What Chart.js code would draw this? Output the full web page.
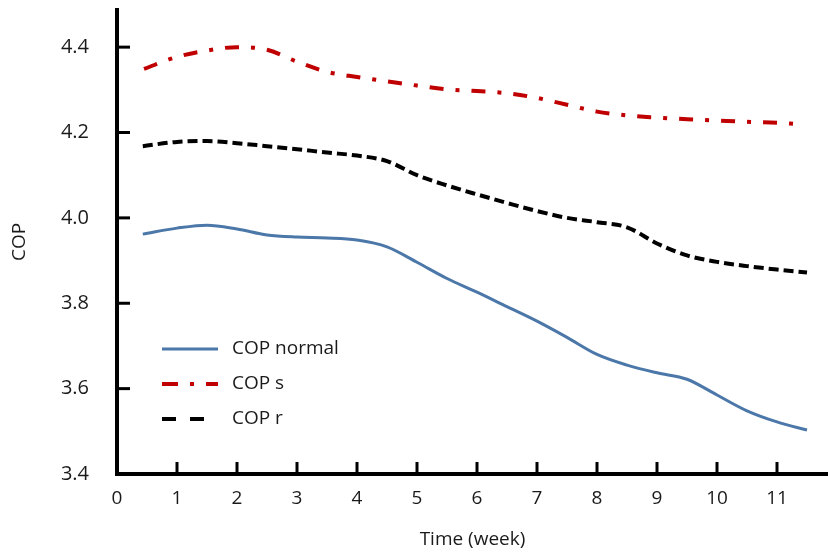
<!DOCTYPE html>
<html>
<head>
<meta charset="utf-8">
<script src="https://cdn.jsdelivr.net/npm/chart.js@4"></script>
<style>
html,body{margin:0;padding:0;background:#fff;}
#wrap{width:828px;height:552px;}
</style>
</head>
<body>
<div id="wrap"><canvas id="c" width="828" height="552"></canvas></div>
<script>
// Data (x = week, y = COP)
const weeks = [0.43, 1.0, 1.5, 2.0, 2.5, 3.0, 3.5, 4.0, 4.5, 5.0, 5.5, 6.0, 6.5, 7.0, 7.5, 8.0, 8.5, 9.0, 9.5, 10.0, 10.5, 11.0, 11.5];
const copNormal = [3.962, 3.976, 3.983, 3.974, 3.960, 3.955, 3.953, 3.948, 3.932, 3.896, 3.858, 3.826, 3.792, 3.758, 3.720, 3.680, 3.655, 3.637, 3.622, 3.585, 3.548, 3.522, 3.503];
const copSWeeks = [0.45, 1.0, 1.5, 2.0, 2.5, 3.0, 3.5, 4.0, 4.5, 5.0, 5.5, 6.0, 6.5, 7.0, 7.5, 8.0, 8.5, 9.0, 9.5, 10.0, 10.5, 11.0, 11.33];
const copS = [4.349, 4.377, 4.392, 4.400, 4.394, 4.366, 4.342, 4.330, 4.320, 4.310, 4.301, 4.297, 4.292, 4.281, 4.265, 4.249, 4.240, 4.235, 4.231, 4.228, 4.225, 4.223, 4.220];
const copRWeeks = [0.43, 1.0, 1.5, 2.0, 2.5, 3.0, 3.5, 4.0, 4.5, 5.0, 5.5, 6.0, 6.5, 7.0, 7.5, 8.0, 8.5, 9.0, 9.5, 10.0, 10.5, 11.0, 11.5];
const copR = [4.168, 4.178, 4.180, 4.175, 4.168, 4.161, 4.153, 4.146, 4.133, 4.100, 4.076, 4.055, 4.035, 4.016, 4.000, 3.990, 3.978, 3.940, 3.912, 3.897, 3.887, 3.879, 3.872];
const seriesLabels = ["COP normal", "COP s", "COP r"];
const xTicks = [0, 1, 2, 3, 4, 5, 6, 7, 8, 9, 10, 11];
const yTicks = [3.4, 3.6, 3.8, 4.0, 4.2, 4.4];
const xTitle = "Time (week)";
const yTitle = "COP";

const FONT = "'Open Sans', 'Liberation Sans', sans-serif";
const FSIZE = 20;
const toPts = (xs, ys) => xs.map((x, i) => ({x: x, y: ys[i]}));

// inner tick marks + inside legend
const decor = {
  id: 'decor',
  afterDraw(chart) {
    const ctx = chart.ctx;
    const xs = chart.scales.x, ys = chart.scales.y;
    const area = chart.chartArea;
    ctx.save();
    ctx.strokeStyle = '#000';
    ctx.lineWidth = 3;
    ctx.setLineDash([]);
    xTicks.forEach(v => {
      if (v === 0) return;
      const px = xs.getPixelForValue(v);
      ctx.beginPath(); ctx.moveTo(px, area.bottom); ctx.lineTo(px, area.bottom - 12); ctx.stroke();
    });
    yTicks.forEach(v => {
      if (v === 3.4) return;
      const py = ys.getPixelForValue(v);
      ctx.beginPath(); ctx.moveTo(area.left, py); ctx.lineTo(area.left + 13, py); ctx.stroke();
    });
    // legend
    const lx = 162, ly = 349, gap = 35;
    chart.data.datasets.forEach((ds, i) => {
      const y = ly + i * gap;
      ctx.strokeStyle = ds.borderColor;
      ctx.lineWidth = ds.borderWidth;
      ctx.setLineDash(ds.legendDash || []);
      ctx.beginPath(); ctx.moveTo(lx, y); ctx.lineTo(lx + 56, y); ctx.stroke();
      ctx.setLineDash([]);
      ctx.fillStyle = '#1a1a1a';
      ctx.font = (FSIZE - 1) + 'px ' + FONT;
      ctx.textBaseline = 'middle';
      ctx.textAlign = 'left';
      ctx.fillText(ds.label, lx + 70, y);
    });
    ctx.restore();
  }
};

new Chart(document.getElementById('c'), {
  type: 'scatter',
  data: {
    datasets: [
      {label: seriesLabels[0], data: toPts(weeks, copNormal), showLine: true, borderColor: '#4b77a9', borderWidth: 3, pointRadius: 0, cubicInterpolationMode: 'monotone', fill: false},
      {label: seriesLabels[1], data: toPts(copSWeeks, copS), showLine: true, borderColor: '#c00000', borderWidth: 4, borderDash: [14, 12, 4, 12], legendDash: [16, 12, 4, 12], pointRadius: 0, cubicInterpolationMode: 'monotone', fill: false},
      {label: seriesLabels[2], data: toPts(copRWeeks, copR), showLine: true, borderColor: '#000000', borderWidth: 4, borderDash: [10, 5], legendDash: [14, 14], pointRadius: 0, cubicInterpolationMode: 'monotone', fill: false}
    ]
  },
  options: {
    responsive: false,
    animation: false,
    layout: {padding: {top: 10, right: 0, left: 0, bottom: 0}},
    plugins: {legend: {display: false}, tooltip: {enabled: false}},
    scales: {
      x: {
        type: 'linear', min: 0, max: 11.85,
        afterBuildTicks: s => { s.ticks = xTicks.map(v => ({value: v})); },
        afterFit: s => { s.height = 78; s.paddingLeft = 0; s.paddingRight = 0; },
        grid: {display: true, drawOnChartArea: false, drawTicks: false},
        border: {display: true, color: '#000', width: 4},
        ticks: {padding: 13, color: '#1a1a1a', font: {family: FONT, size: FSIZE - 1}, maxRotation: 0, autoSkip: false, callback: v => String(v)},
        title: {display: true, text: xTitle, color: '#1a1a1a', font: {family: FONT, size: FSIZE - 1}, padding: {top: 0, bottom: 1}}
      },
      y: {
        type: 'linear', min: 3.4, max: 4.487,
        afterBuildTicks: s => { s.ticks = yTicks.map(v => ({value: v})); },
        afterFit: s => { s.width = 117; s.paddingTop = 0; s.paddingBottom = 0; },
        grid: {display: true, drawOnChartArea: false, drawTicks: false},
        border: {display: true, color: '#000', width: 4},
        ticks: {padding: 28, color: '#1a1a1a', font: {family: FONT, size: FSIZE}, callback: v => v.toFixed(1)},
        title: {display: true, text: yTitle, color: '#1a1a1a', font: {family: FONT, size: FSIZE - 1}, padding: {top: 8, bottom: 0}}
      }
    }
  },
  plugins: [decor]
});
</script>
</body>
</html>
